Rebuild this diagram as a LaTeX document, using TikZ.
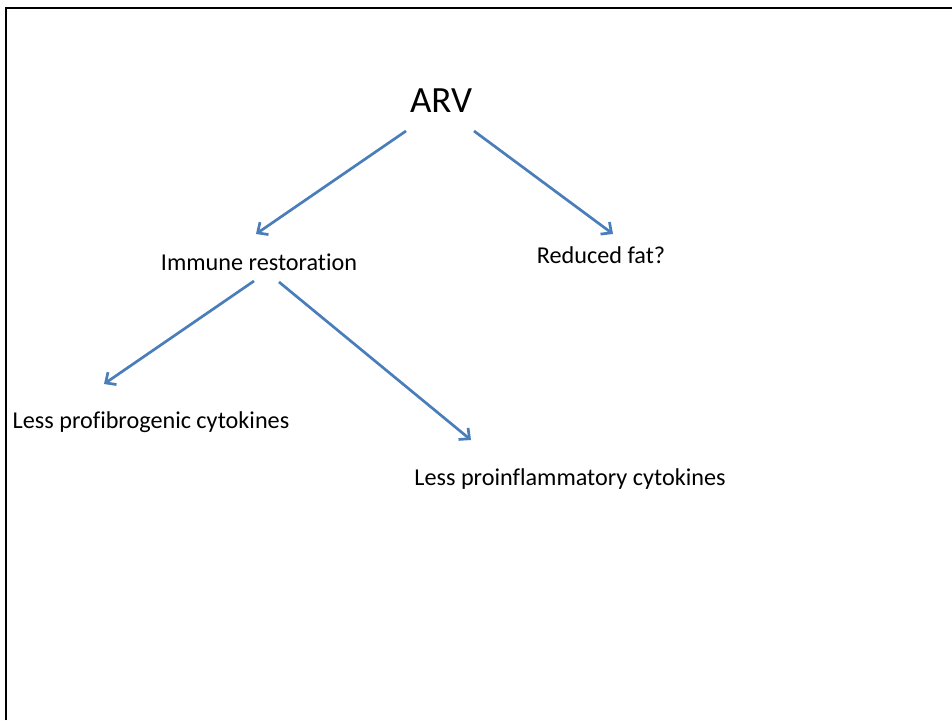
\documentclass[tikz,border=0pt]{standalone}
\usepackage{fontspec}
\setmainfont[Ligatures={NoCommon}]{Carlito}
\usetikzlibrary{arrows.meta}
\definecolor{arrowblue}{HTML}{4A7EBB}
\tikzset{
  lbl/.style={inner sep=0pt, anchor=base, font=\fontsize{24.2}{28}\selectfont},
  conn/.style={draw=arrowblue, line width=2.7pt, -{Straight Barb[length=8pt,width=15pt,line width=2.7pt]}},
}
\begin{document}
\begin{tikzpicture}[x=1pt,y=-1pt]
\useasboundingbox (0,0) rectangle (952,720);
\draw[line width=2.4pt] (6,720) -- (6,8) -- (952,8);
\node[lbl, font=\fontsize{37}{42}\selectfont] (arv) at (441,112) {ARV};
\node[lbl] (imm) at (259,270) {Immune restoration};
\node[lbl] (fat) at (601,263) {Reduced fat?};
\node[lbl] (fib) at (151,428) {Less profibrogenic cytokines};
\node[lbl] (inf) at (570,485) {Less proinflammatory cytokines};
\coordinate (a1s) at (406,131);
\coordinate (a1e) at (256,234);
\coordinate (a2s) at (474,131);
\coordinate (a2e) at (613,234);
\coordinate (a3s) at (254,281);
\coordinate (a3e) at (104,384);
\coordinate (a4s) at (279,282);
\coordinate (a4e) at (471,440);
\draw[conn] (a1s) -- (a1e);
\draw[conn] (a2s) -- (a2e);
\draw[conn] (a3s) -- (a3e);
\draw[conn] (a4s) -- (a4e);
\end{tikzpicture}
\end{document}
